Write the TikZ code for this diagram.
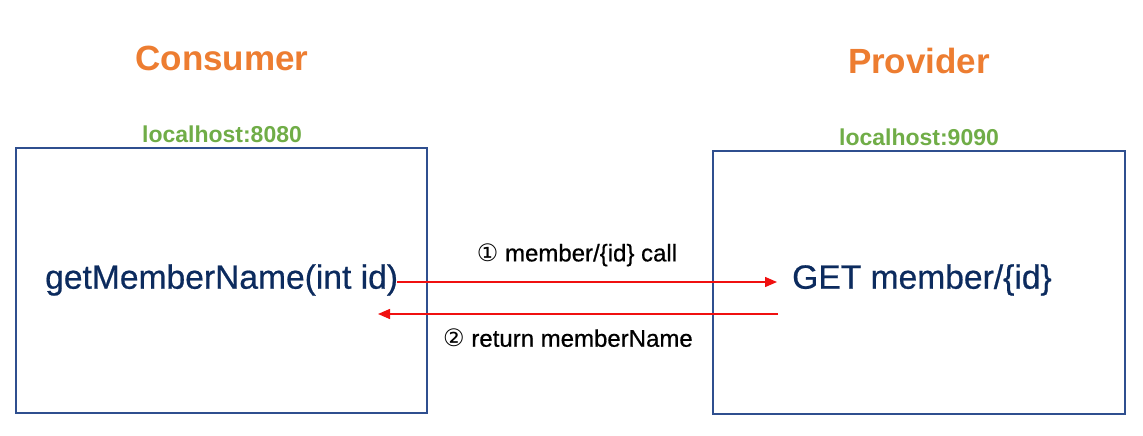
\documentclass[tikz,border=0pt]{standalone}
\usepackage{fontspec}
\setmainfont{Liberation Sans}
\newfontfamily\djv{DejaVu Sans}
\newfontfamily\semib[FakeBold=0.6]{Liberation Sans}
\usetikzlibrary{arrows.meta}
\definecolor{orangeT}{HTML}{ED7D31}
\definecolor{greenT}{HTML}{70AD47}
\definecolor{navyT}{HTML}{0C2B5E}
\definecolor{boxB}{HTML}{2F4F8F}
\definecolor{redA}{HTML}{F01010}
\tikzset{
  server/.style={draw=boxB, line width=1.6pt, inner sep=0pt, outer sep=0pt},
  title/.style={text=orangeT, font=\bfseries\fontsize{35}{40}\selectfont, inner sep=0pt},
  host/.style={text=greenT, font=\bfseries\fontsize{23}{26}\selectfont, inner sep=0pt},
  code/.style={text=navyT, font=\semib\fontsize{33.6}{38}\selectfont, inner sep=0pt},
  lbl/.style={text=black, font=\semib\fontsize{24}{28}\selectfont, inner sep=0pt},
  call/.style={draw=redA, line width=1.4pt, -{Triangle[length=12pt,width=10pt]}}
}
\begin{document}
\begin{tikzpicture}[x=1pt,y=-1pt]
\useasboundingbox[fill=white] (0,0) rectangle (1143,436);
% boxes
\node[server, minimum width=411pt, minimum height=265pt] (cbox) at (221.5,280.5) {};
\node[server, minimum width=412pt, minimum height=263pt] (pbox) at (919,282.5) {};
% titles
\node[title] (ctitle) at (222,58) {Consumer};
\node[title] (ptitle) at (919,61) {Provider};
\node[host] (chost) at (222,134) {localhost:8080};
\node[host] (phost) at (919,137) {localhost:9090};
% code texts
\node[code, anchor=west] (cname) at (45,280) {getMemberName(int id)};
\node[code, anchor=west] (get) at (792,280) {GET member/\{id\}};
% arrows
\coordinate (a1s) at (397,282);
\coordinate (a1e) at (777,282);
\coordinate (a2s) at (778,314);
\coordinate (a2e) at (378,314);
\draw[call] (a1s) -- (a1e);
\draw[call] (a2s) -- (a2e);
% labels
\node[lbl] (l1) at (577,255) {{\djv ①} member/\{id\} call};
\node[lbl] (l2) at (568,338) {{\djv ②} return memberName};
\end{tikzpicture}
\end{document}
